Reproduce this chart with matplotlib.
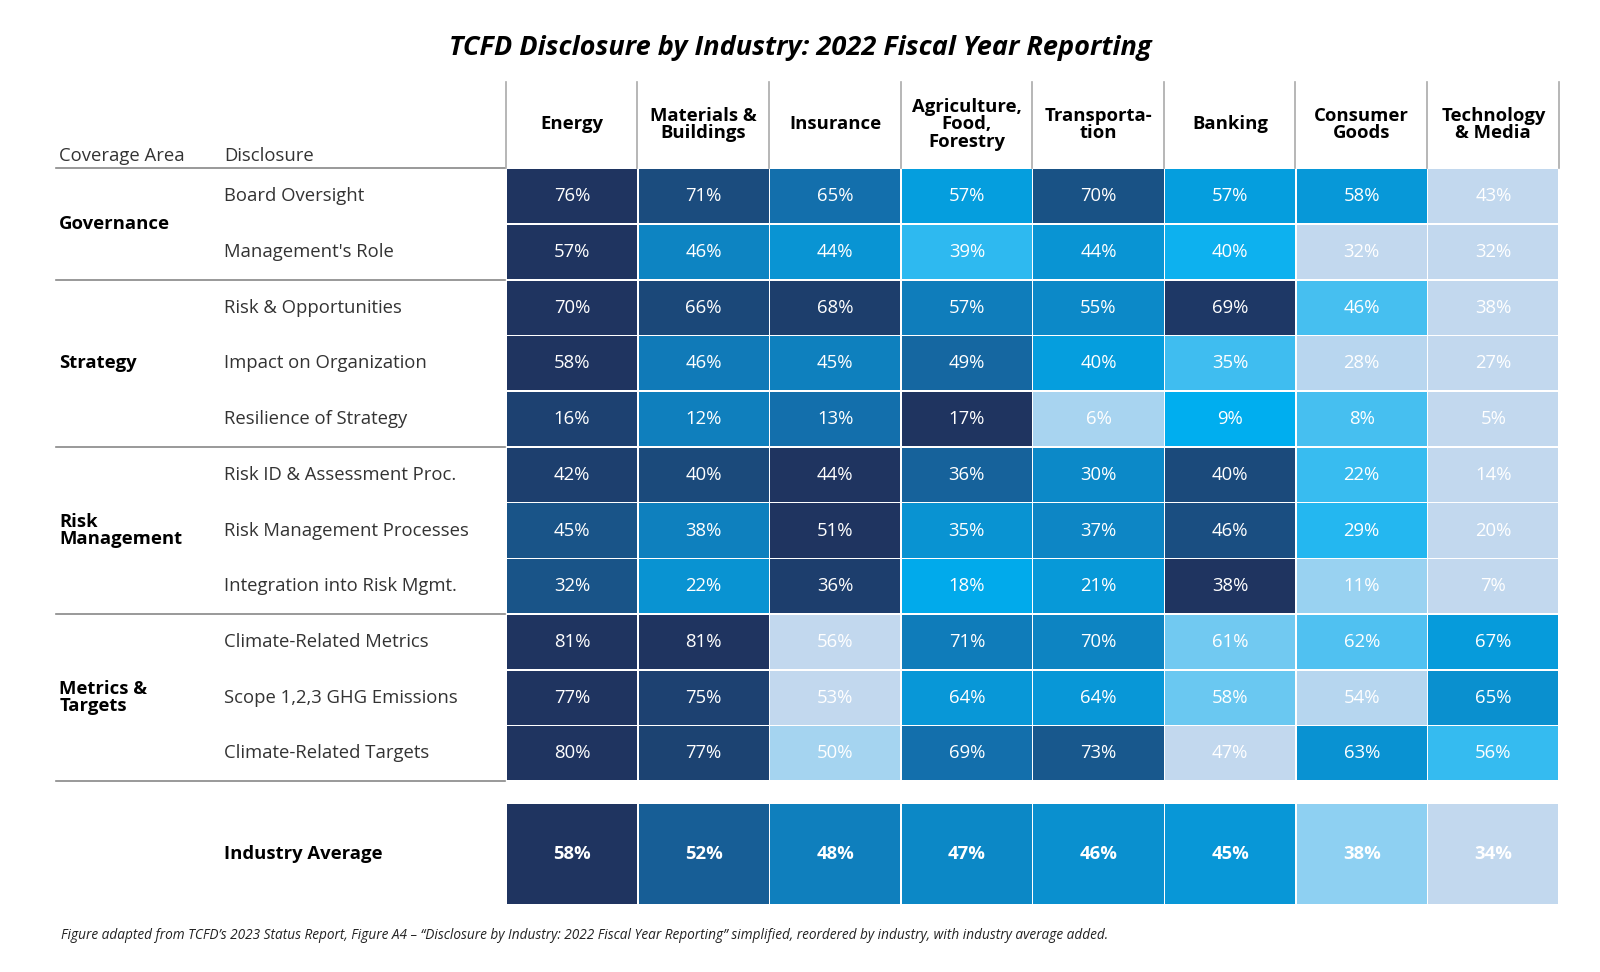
import matplotlib
matplotlib.use("Agg")
import matplotlib.pyplot as plt
import numpy as np
from matplotlib.colors import LinearSegmentedColormap

plt.rcParams['font.family'] = ['Open Sans', 'DejaVu Sans']

industries = ["Energy", "Materials &\nBuildings", "Insurance", "Agriculture,\nFood,\nForestry",
              "Transporta-\ntion", "Banking", "Consumer\nGoods", "Technology\n& Media"]
areas = [("Governance", 2), ("Strategy", 3), ("Risk\nManagement", 3), ("Metrics &\nTargets", 3)]
disclosures = ["Board Oversight", "Management's Role", "Risk & Opportunities", "Impact on Organization",
               "Resilience of Strategy", "Risk ID & Assessment Proc.", "Risk Management Processes",
               "Integration into Risk Mgmt.", "Climate-Related Metrics", "Scope 1,2,3 GHG Emissions",
               "Climate-Related Targets"]
values = np.array([
    [76, 71, 65, 57, 70, 57, 58, 43],
    [57, 46, 44, 39, 44, 40, 32, 32],
    [70, 66, 68, 57, 55, 69, 46, 38],
    [58, 46, 45, 49, 40, 35, 28, 27],
    [16, 12, 13, 17, 6, 9, 8, 5],
    [42, 40, 44, 36, 30, 40, 22, 14],
    [45, 38, 51, 35, 37, 46, 29, 20],
    [32, 22, 36, 18, 21, 38, 11, 7],
    [81, 81, 56, 71, 70, 61, 62, 67],
    [77, 75, 53, 64, 64, 58, 54, 65],
    [80, 77, 50, 69, 73, 47, 63, 56],
])
average = [58, 52, 48, 47, 46, 45, 38, 34]

cmap = LinearSegmentedColormap.from_list("tcfd", ["#c2d8ee", "#8dd0f2", "#00aeef", "#0a90cf",
                                                  "#136fac", "#1a4f82", "#1f3460"])

fig = plt.figure(figsize=(16, 9.72), dpi=100)
ax = fig.add_axes([0, 0, 1, 1])
W = 1568
ax.set_xlim(0, W); ax.set_ylim(972 * W / 1600, 0); ax.axis('off')

x0, cw = 496, 129.0
y0, rh = 165, 54.6
gap = 1.5

def color(row, v):
    lo, hi = min(row), max(row)
    return cmap((v - lo) / (hi - lo) if hi > lo else 1)

ax.text(784, 47, "TCFD Disclosure by Industry: 2022 Fiscal Year Reporting", ha='center', va='center',
        fontsize=19.5, fontweight='bold', style='italic')
ax.text(58, 153, "Coverage Area", fontsize=13.3, va='center', color='#333333')
ax.text(220, 153, "Disclosure", fontsize=13.3, va='center', color='#333333')
ax.plot([55, 495], [y0, y0], color='#888888', lw=1.2)
for j, name in enumerate(industries):
    ax.text(x0 + (j + 0.5) * cw, 122, name, ha='center', va='center', fontsize=13.3,
            fontweight='bold', linespacing=0.95)
for j in range(len(industries) + 1):
    ax.plot([x0 + j * cw - 0.5] * 2, [80, y0], color='#aaaaaa', lw=1.2)

for i, row in enumerate(values):
    yc = y0 + (i + 0.5) * rh
    ax.text(220, yc, disclosures[i], fontsize=13.3, va='center', color='#333333')
    for j, v in enumerate(row):
        ax.add_patch(plt.Rectangle((x0 + j * cw + gap / 2, y0 + i * rh + gap / 2), cw - gap, rh - gap,
                                   color=color(row, v), lw=0))
        ax.text(x0 + (j + 0.5) * cw, yc, f"{v}%", ha='center', va='center', fontsize=13.3, color='white')

r = 0
for name, n in areas:
    ax.text(58, y0 + (r + n / 2) * rh, name, fontsize=13.3, fontweight='bold', va='center', linespacing=0.95)
    r += n
    ax.plot([55, 495], [y0 + r * rh] * 2, color='#888888', lw=1.2)

ya, ah = 788, 98
ax.text(220, ya + ah / 2, "Industry Average", fontsize=13.3, fontweight='bold', va='center')
for j, v in enumerate(average):
    ax.add_patch(plt.Rectangle((x0 + j * cw + gap / 2, ya), cw - gap, ah, color=color(average, v), lw=0))
    ax.text(x0 + (j + 0.5) * cw, ya + ah / 2, f"{v}%", ha='center', va='center', fontsize=13.3,
            color='white', fontweight='bold')

ax.text(60, 917, "Figure adapted from TCFD\u2019s 2023 Status Report, Figure A4 \u2013 \u201cDisclosure by Industry: "
        "2022 Fiscal Year Reporting\u201d simplified, reordered by industry, with industry average added.",
        fontsize=9.8, style='italic', va='center', color='#222222')

fig.savefig("out.png", dpi=100, facecolor='white')
